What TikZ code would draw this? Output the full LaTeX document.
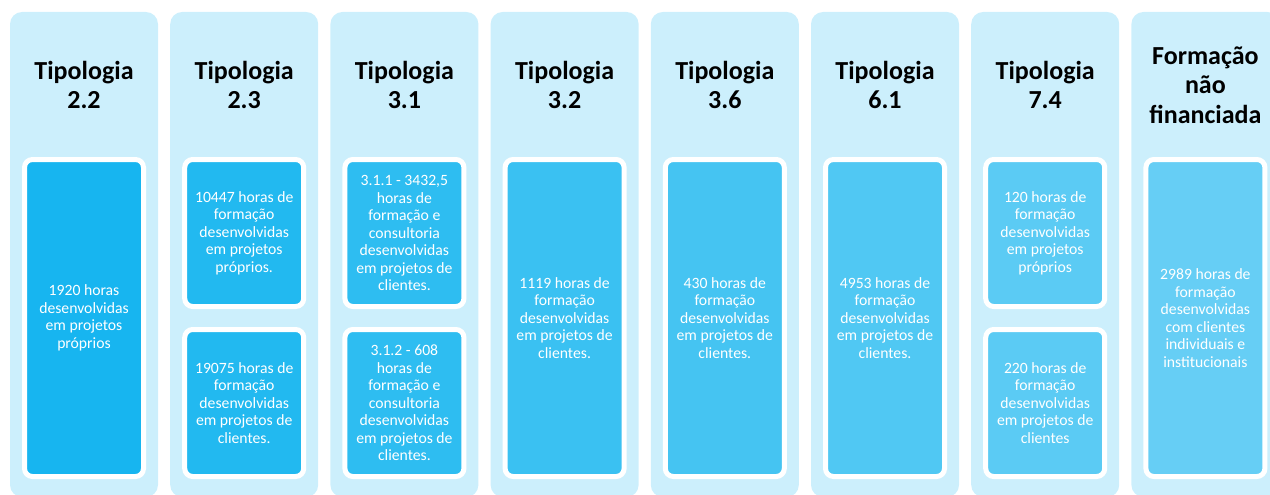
\documentclass[tikz,border=0pt]{standalone}
\usepackage{fontspec}
\setmainfont{Carlito}
\usetikzlibrary{positioning}
\definecolor{colbg}{HTML}{CCEFFC}
\definecolor{hA}{HTML}{17B5F0}
\definecolor{hB}{HTML}{22B9F0}
\definecolor{hC}{HTML}{2EBDF1}
\definecolor{hD}{HTML}{3AC1F2}
\definecolor{hE}{HTML}{45C4F2}
\definecolor{hF}{HTML}{50C8F3}
\definecolor{hG}{HTML}{5BCBF4}
\definecolor{hH}{HTML}{66CEF5}
\tikzset{
x=1pt,
y=-1pt,
column/.style={fill=colbg, rounded corners=12pt, minimum width=148pt, minimum height=485pt, inner sep=0pt},
heading/.style={font=\fontsize{26}{29.5}\selectfont\bfseries, align=center, text=black},
hours/.style={draw=white, line width=5pt, rounded corners=8pt, text=white, align=center,
  font=\fontsize{15.7}{17.5}\selectfont, minimum width=119pt, inner sep=0pt},
tall/.style={hours, minimum height=317pt},
half/.style={hours, minimum height=147pt},
}

\begin{document}
\begin{tikzpicture}
        \useasboundingbox (0,0) rectangle (1270,495);
        \clip (0,0) rectangle (1270,495);

        \node[column] (c22) at (84,254.5) {};
        \node[column] (c23) at (244.2,254.5) {};
        \node[column] (c31) at (404.4,254.5) {};
        \node[column] (c32) at (564.6,254.5) {};
        \node[column] (c36) at (724.8,254.5) {};
        \node[column] (c61) at (885,254.5) {};
        \node[column] (c74) at (1045.2,254.5) {};
        \node[column] (cnf) at (1205.4,254.5) {};

        \node[heading] (t22) at (84,85) {Tipologia\\2.2};
        \node[heading] (t23) at (244.2,85) {Tipologia\\2.3};
        \node[heading] (t31) at (404.4,85) {Tipologia\\3.1};
        \node[heading] (t32) at (564.6,85) {Tipologia\\3.2};
        \node[heading] (t36) at (724.8,85) {Tipologia\\3.6};
        \node[heading] (t61) at (885,85) {Tipologia\\6.1};
        \node[heading] (t74) at (1045.2,85) {Tipologia\\7.4};
        \node[heading] (tnf) at (1205.4,85) {Formação\\não\\financiada};

        \node[tall,fill=hA] (h22) at (84,318) {1920 horas\\desenvolvidas\\em projetos\\próprios};
        \node[half,fill=hB] (h23a) at (244.2,233) {10447 horas de\\formação\\desenvolvidas\\em projetos\\próprios.};
        \node[half,fill=hB] (h23b) at (244.2,403) {19075 horas de\\formação\\desenvolvidas\\em projetos de\\clientes.};
        \node[half,fill=hC] (h31a) at (404.4,233) {3.1.1 - 3432,5\\horas de\\formação e\\consultoria\\desenvolvidas\\em projetos de\\clientes.};
        \node[half,fill=hC] (h31b) at (404.4,403) {3.1.2 - 608\\horas de\\formação e\\consultoria\\desenvolvidas\\em projetos de\\clientes.};
        \node[tall,fill=hD] (h32) at (564.6,318) {1119 horas de\\formação\\desenvolvidas\\em projetos de\\clientes.};
        \node[tall,fill=hE] (h36) at (724.8,318) {430 horas de\\formação\\desenvolvidas\\em projetos de\\clientes.};
        \node[tall,fill=hF] (h61) at (885,318) {4953 horas de\\formação\\desenvolvidas\\em projetos de\\clientes.};
        \node[half,fill=hG] (h74a) at (1045.2,233) {120 horas de\\formação\\desenvolvidas\\em projetos\\próprios};
        \node[half,fill=hG] (h74b) at (1045.2,403) {220 horas de\\formação\\desenvolvidas\\em projetos de\\clientes};
        \node[tall,fill=hH] (hnf) at (1205.4,318) {2989 horas de\\formação\\desenvolvidas\\com clientes\\individuais e\\institucionais};
    \end{tikzpicture}
\end{document}
